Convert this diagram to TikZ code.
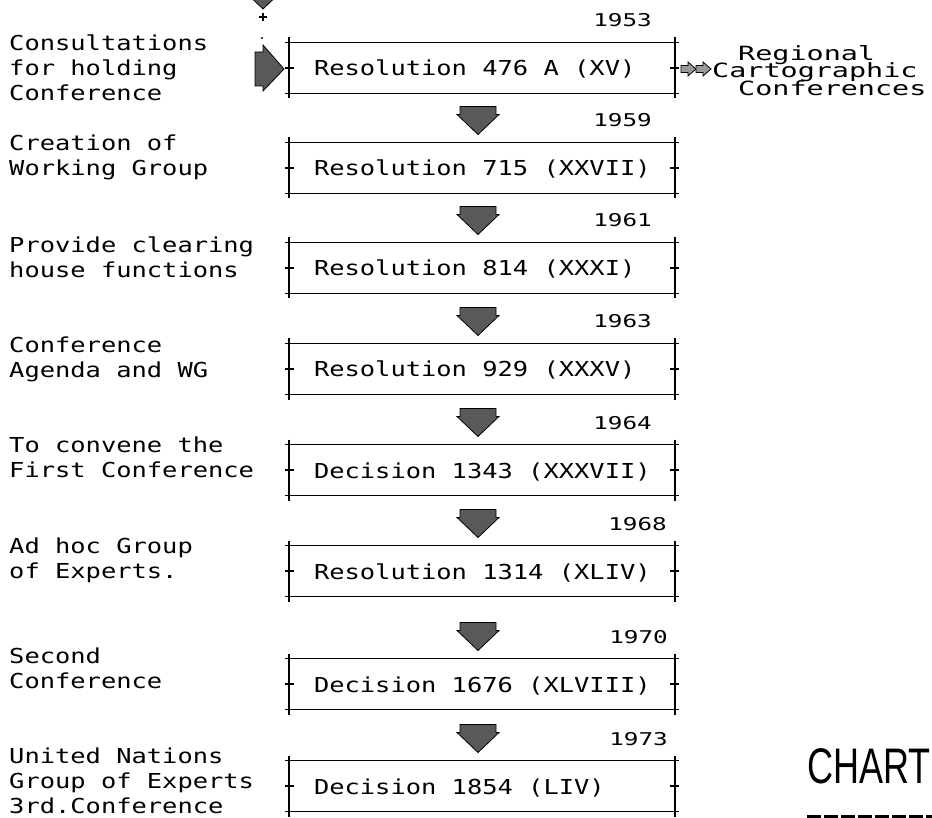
\documentclass[tikz,border=0pt]{standalone}
\usepackage{fontspec}
\newfontfamily\plotfont[FakeStretch=1.234]{DejaVu Sans Mono}
\newfontfamily\sidefont[FakeStretch=1.45]{DejaVu Sans Mono}
\newfontfamily\yearfont[FakeStretch=1.38]{DejaVu Sans Mono}
\newfontfamily\chartfont[FakeStretch=0.72]{Liberation Sans}
\usetikzlibrary{calc}

\tikzset{
  chartbox/.style={draw, line width=1.6pt, outer sep=0pt, minimum height=51pt,
    minimum width=386pt, inner xsep=25pt, inner ysep=0pt,
    text height=16pt, text depth=0pt, font=\plotfont\fontsize{20.6}{25}\selectfont},
  tickline/.style={line width=1.6pt},
  notetext/.style={anchor=north west, inner sep=0pt, align=left,
    font=\plotfont\fontsize{20.6}{25}\selectfont},
  sidetext/.style={anchor=base west, inner sep=0pt, font=\sidefont\fontsize{19.6}{24}\selectfont},
  yeartext/.style={anchor=base east, inner sep=0pt, font=\yearfont\fontsize{17.6}{20}\selectfont},
  arrowfill/.style={fill=black!65, draw=black, line width=0.8pt},
  downarr/.pic={\filldraw[arrowfill] (-18,-28) -- (18,-28) -- (18,-20) -- (21,-20)
    -- (0,0) -- (-21,-20) -- (-18,-20) -- cycle;},
  smallarr/.pic={\filldraw[arrowfill, fill=black!40] (-15,-3.5) -- (-8,-3.5) -- (-8,-7)
    -- (0,0) -- (-8,7) -- (-8,3.5) -- (-15,3.5) -- cycle;},
  entryarr/.pic={\filldraw[arrowfill] (-29,-17) -- (-21,-17) -- (-21,-24)
    -- (0,0) -- (-21,22) -- (-21,17) -- (-29,17) -- cycle;}
}

\begin{document}
\begin{tikzpicture}[x=1pt,y=-1pt]
\useasboundingbox (0,0) rectangle (932,818);

% boxes, ticks and years
\foreach \yr/\y/\yx/\txt in {1953/68/652/Resolution 476 A (XV),
  1959/168/652/Resolution 715 (XXVII), 1961/268/652/Resolution 814 (XXXI),
  1963/369/652/Resolution 929 (XXXV), 1964/470/652/Decision 1343 (XXXVII),
  1968/571/667/Resolution 1314 (XLIV), 1970/684/668/Decision 1676 (XLVIII),
  1973/786/668/Decision 1854 (LIV)}{
\node[chartbox] (r\yr) at (482,\y) {\makebox[336pt][l]{\txt}};
\draw[tickline] ([yshift=5pt]r\yr.north west) -- ([yshift=-5pt]r\yr.south west);
\draw[tickline] ([yshift=5pt]r\yr.north east) -- ([yshift=-5pt]r\yr.south east);
\foreach \a in {north west,west,south west}{
\draw[tickline] ([xshift=-4pt]r\yr.\a) -- ([xshift=5pt]r\yr.\a);
}
\foreach \a in {north east,east,south east}{
\draw[tickline] ([xshift=-5pt]r\yr.\a) -- ([xshift=4pt]r\yr.\a);
}
\node[yeartext] (y\yr) at (\yx,\y-41) {\yr};
}

\foreach \b in {1959,1961,1963,1964,1968,1970,1973}{
\pic at ($(r\b.north)+(-4,-8)$) {downarr};
}

% what the resolutions are about
\node[notetext] (n1953) at (9,34.3) {Consultations\\for holding\\Conference};
\node[notetext] (n1959) at (9,134.3) {Creation of\\Working Group};
\node[notetext] (n1961) at (9,236.3) {Provide clearing\\house functions};
\node[notetext] (n1963) at (9,336.3) {Conference\\Agenda and WG};
\node[notetext] (n1964) at (9,436.3) {To convene the\\First Conference};
\node[notetext] (n1968) at (9,537.3) {Ad hoc Group\\of Experts.};
\node[notetext] (n1970) at (9,647.3) {Second\\Conference};
\node[notetext] (n1973) at (9,747.3) {United Nations\\Group of Experts\\3rd.Conference};

% entry from above
\pic[scale=0.6] at (263,9) {downarr};
\draw[line width=1.5pt] (259,17) -- (267,17) (263,13) -- (263,21);
\fill (262,38) circle (1.2pt);
\pic at ($(r1953.west)+(-5,1)$) {entryarr};

% regional conferences
\node[sidetext] (regional) at (738,61) {Regional};
\node[sidetext] (carto) at (712,78) {Cartographic};
\node[sidetext] (confs) at (738,96) {Conferences};
\pic at ($(r1953.east)+(21,1)$) {smallarr};
\pic at ($(carto.base west)+(-1,-9)$) {smallarr};

\node[anchor=base west, inner sep=0pt, font=\chartfont\fontsize{50}{60}\selectfont] (chart) at (807,783) {CHART};
\draw[line width=5pt, dash pattern=on 14pt off 3pt] ($(chart.base west)+(0,34)$) -- ++(125,0);
\end{tikzpicture}
\end{document}
